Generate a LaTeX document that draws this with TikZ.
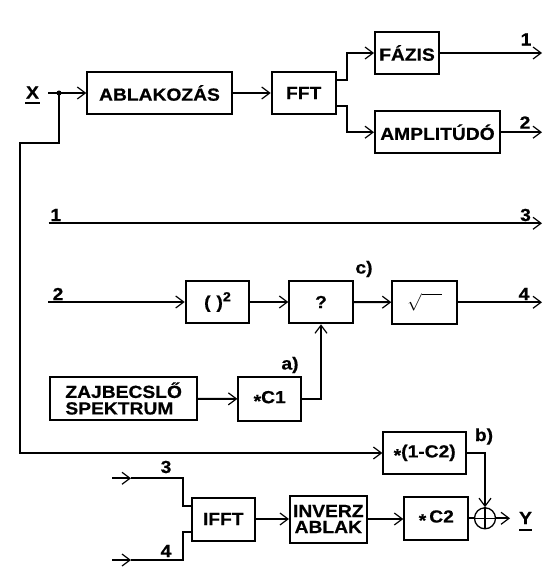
\documentclass[tikz,border=0pt]{standalone}
\usepackage{fontspec}
\newfontfamily\wf[FakeStretch=1.1,BoldFeatures={FakeBold=0.6}]{Liberation Sans}
\usetikzlibrary{arrows.meta}
\tikzset{
  lbl/.style={font=\wf\bfseries\fontsize{17.5}{16.5}\selectfont, inner sep=0pt},
  blk/.style={lbl, draw, line width=2pt, minimum height=42.6pt},
  wire/.style={line width=2pt},
  arr/.style={wire, -{Straight Barb[length=8pt,width=12pt,line width=1.2pt]}},
  thin/.style={line width=1.3pt},
}
\newcommand\stx{\raisebox{-0.22em}{*}}
\begin{document}
\begin{tikzpicture}[x=1pt,y=-1pt]
\useasboundingbox (0,0) rectangle (545,588);
% blocks
\node[blk, minimum width=144.4pt] (abl) at (159.5,93) {ABLAKOZÁS};
\node[blk, minimum width=64pt] (fft) at (303.7,93) {FFT};
\node[blk, minimum width=64pt] (faz) at (407,53) {FÁZIS};
\node[blk, minimum width=125pt] (amp) at (437.5,132.2) {AMPLITÚDÓ};
\node[blk, minimum width=63.6pt] (sq) at (217.5,302) {(\kern6pt)\raisebox{7pt}{\fontsize{13}{13}\selectfont 2}};
\node[blk, minimum width=63.4pt] (q) at (321,302) {?};
\node[blk, minimum width=64.4pt] (rt) at (424.5,302.3) {$\sqrt{\rule{0pt}{10pt}\hspace{20pt}}$};
\node[blk, minimum width=146.5pt, minimum height=43pt, align=left] (zaj) at (123.7,398.5) {ZAJBECSLŐ\\SPEKTRUM};
\node[blk, minimum width=62.7pt, minimum height=43.5pt] (c1) at (269.7,399) {\stx C1};
\node[blk, minimum width=82.7pt] (omc) at (424.7,453) {\stx(1-C2)};
\node[blk, minimum width=64pt, minimum height=43.3pt] (c2) at (436.3,518.3) {\stx\kern3pt C2};
\node[blk, minimum width=63.3pt, minimum height=43pt] (ifft) at (223.3,519) {IFFT};
\node[blk, minimum width=76.7pt, minimum height=47pt, align=center, font=\wf\bfseries\fontsize{17.5}{16}\selectfont] (inv) at (328.3,519) {INVERZ\\ABLAK};
\node[draw, thin, circle, minimum size=21pt, inner sep=0pt] (sum) at (485,518.3) {};
\draw[thin] (sum.north) -- (sum.south) (sum.west) -- (sum.east);
% labels
\node[lbl] (X) at (32.5,92.5) {X};
\draw[wire] (25,103) -- (40,103);
\node[lbl] (Y) at (525.5,518) {Y};
\draw[wire] (519,530) -- (532,530);
\node[lbl] (l1a) at (526,39.5) {1};
\node[lbl] (l2a) at (525,122.5) {2};
\node[lbl] (l1b) at (55.8,215) {1};
\node[lbl] (l3a) at (525.5,215) {3};
\node[lbl] (l2b) at (58,294) {2};
\node[lbl] (l4a) at (524,294) {4};
\node[lbl] (lc) at (364,269) {c)};
\node[lbl] (la) at (290,365) {a)};
\node[lbl] (lb) at (484,436.5) {b)};
\node[lbl] (l3b) at (166,467) {3};
\node[lbl] (l4b) at (166,551) {4};
% coordinates
\coordinate (xin) at (48,93);
\coordinate (dot) at (59,93);
\coordinate (j1) at (347,0);
\coordinate (o1) at (542,53);
\coordinate (o2) at (542,132.2);
\coordinate (lft) at (19.5,142.7);
\coordinate (i1) at (48.7,223.3);
\coordinate (o3) at (542,223.3);
\coordinate (i2) at (48,302);
\coordinate (o4) at (542,302.3);
\coordinate (yo) at (510,518.3);
\coordinate (i3) at (112,478.3);
\coordinate (m3) at (131,478.3);
\coordinate (b3) at (183.3,478.3);
\coordinate (i4) at (112,560);
\coordinate (m4) at (131,560);
\coordinate (b4) at (183.3,560);
% connectors
\draw[arr] (xin) -- (abl.west);
\fill (dot) circle (2.5);
\draw[arr] (abl) -- (fft);
\draw[arr] ([yshift=13pt]fft.east) -| (j1 |- faz.west) -- (faz.west);
\draw[arr] ([yshift=-13pt]fft.east) -| (j1 |- amp.west) -- (amp.west);
\draw[arr] (faz.east) -- (o1);
\draw[arr] (amp.east) -- (o2);
\draw[arr] (dot) |- (lft) |- (omc.west);
\draw[arr] (i1) -- (o3);
\draw[arr] (i2) -- (sq.west);
\draw[arr] (sq) -- (q);
\draw[arr] (q) -- (rt);
\draw[arr] (rt.east) -- (o4);
\draw[arr] (zaj) -- (c1);
\draw[arr] (c1.east) -| (q.south);
\draw[arr] (omc.east) -| (sum.north);
\draw[wire] (c2.east) -- (sum.west);
\draw[arr] (sum.east) -- (yo);
\draw[arr] (i3) -- (m3);
\draw[wire] (m3) -- (b3) |- ([yshift=13pt]ifft.west);
\draw[arr] (i4) -- (m4);
\draw[wire] (m4) -- (b4) |- ([yshift=-12.7pt]ifft.west);
\draw[arr] (ifft) -- (inv);
\draw[arr] (inv.east) -- (inv.east -| c2.west);
\end{tikzpicture}
\end{document}
